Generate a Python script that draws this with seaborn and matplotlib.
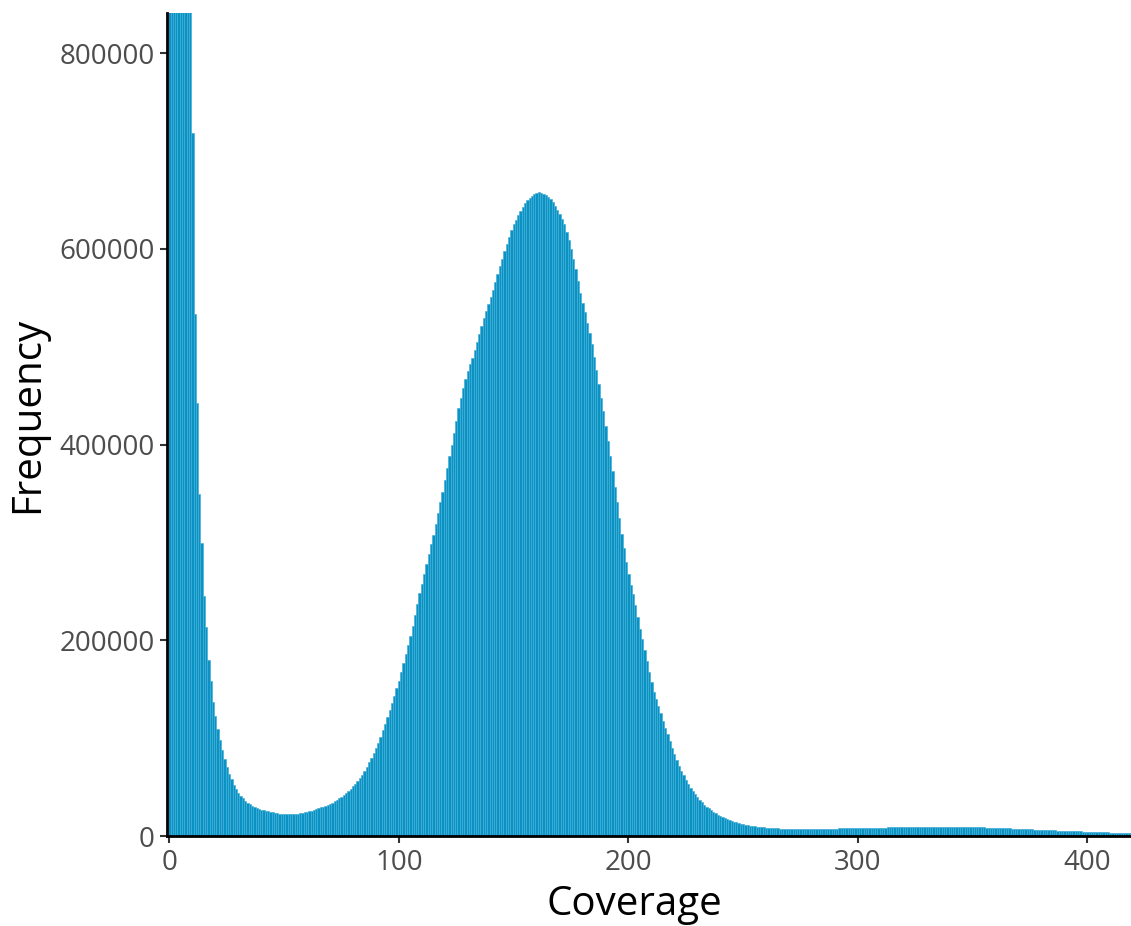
import numpy as np
import pandas as pd
import matplotlib
matplotlib.use("Agg")
import matplotlib.pyplot as plt
import seaborn as sns

# Coverage bins (integer coverage values 0..419)
coverage = list(range(420))

# Frequency per coverage value
frequency = [
    # 0-9 (clipped above the visible range)
    3200000, 2900000, 2500000, 2100000, 1800000, 1500000, 1300000, 1100000, 960000, 870000,
    # 10-19
    718000, 533000, 443000, 350000, 300000, 245000, 214000, 180000, 159000, 137000,
    # 20-29
    123000, 110000, 98000, 88000, 79000, 71000, 64000, 58000, 52000, 48000,
    # 30-39
    44000, 41000, 39000, 36000, 34000, 32500, 31000, 30000, 29000, 28000,
    # 40-49
    27200, 26500, 26000, 25300, 24800, 24200, 23800, 23400, 23000, 22700,
    # 50-59
    22500, 22400, 22300, 22300, 22500, 22700, 23000, 23300, 23700, 24200,
    # 60-69
    24800, 25400, 26000, 26800, 27600, 28500, 29400, 30300, 31200, 32200,
    # 70-79
    33200, 34300, 35500, 37000, 38600, 40500, 42500, 44500, 46500, 48500,
    # 80-89
    51000, 53500, 56500, 59500, 63000, 67000, 71000, 75500, 80000, 85000,
    # 90-99
    90000, 95000, 101000, 108000, 115000, 122000, 129000, 136000, 143000, 151000,
    # 100-109
    159000, 168000, 177000, 186000, 195000, 205000, 215000, 226000, 237000, 248000,
    # 110-119
    258000, 268000, 278000, 288000, 298000, 308000, 319000, 330000, 341000, 352000,
    # 120-129
    364000, 376000, 388000, 400000, 412000, 424000, 437000, 448000, 458000, 467000,
    # 130-139
    475000, 482000, 489000, 497000, 505000, 513000, 521000, 529000, 537000, 544000,
    # 140-149
    551000, 558000, 566000, 574000, 582000, 590000, 598000, 605000, 612000, 619000,
    # 150-159
    625000, 630000, 635000, 639000, 643000, 647000, 650000, 652000, 654000, 656000,
    # 160-169
    657000, 658000, 657000, 656000, 655000, 653000, 651000, 648000, 644000, 640000,
    # 170-179
    636000, 631000, 625000, 617000, 609000, 600000, 590000, 579000, 567000, 555000,
    # 180-189
    545000, 535000, 524000, 514000, 503000, 490000, 476000, 462000, 448000, 434000,
    # 190-199
    419000, 404000, 388000, 373000, 357000, 341000, 325000, 309000, 294000, 280000,
    # 200-209
    268000, 257000, 247000, 236000, 224000, 212000, 201000, 190000, 179000, 168000,
    # 210-219
    157000, 147000, 140000, 133000, 126000, 118000, 111000, 104000, 97000, 90000,
    # 220-229
    84000, 78000, 72000, 67000, 62000, 57000, 53000, 49000, 46000, 43000,
    # 230-239
    40000, 37000, 34500, 32000, 30000, 28500, 27000, 25000, 23500, 22000,
    # 240-249
    20500, 19500, 18500, 17500, 16500, 15500, 14800, 14000, 13300, 12700,
    # 250-259
    12200, 11700, 11200, 10800, 10400, 10000, 9700, 9400, 9100, 8900,
    # 260-269
    8700, 8500, 8300, 8100, 8000, 7900, 7800, 7700, 7600, 7550,
    # 270-279
    7500, 7450, 7400, 7350, 7300, 7300, 7300, 7300, 7300, 7350,
    # 280-289
    7350, 7400, 7400, 7450, 7450, 7500, 7550, 7600, 7650, 7700,
    # 290-299
    7750, 7800, 7850, 7900, 7950, 8000, 8050, 8100, 8150, 8200,
    # 300-309
    8250, 8300, 8350, 8400, 8450, 8500, 8550, 8600, 8650, 8700,
    # 310-319
    8750, 8800, 8850, 8900, 8950, 9000, 9050, 9100, 9150, 9200,
    # 320-329
    9250, 9300, 9330, 9360, 9400, 9430, 9460, 9500, 9520, 9540,
    # 330-339
    9560, 9580, 9600, 9620, 9640, 9650, 9660, 9670, 9680, 9690,
    # 340-349
    9700, 9700, 9690, 9670, 9640, 9600, 9560, 9510, 9450, 9390,
    # 350-359
    9320, 9250, 9170, 9090, 9000, 8910, 8820, 8730, 8640, 8550,
    # 360-369
    8460, 8370, 8280, 8190, 8100, 8000, 7900, 7800, 7700, 7600,
    # 370-379
    7500, 7400, 7300, 7200, 7100, 7000, 6900, 6800, 6700, 6600,
    # 380-389
    6500, 6400, 6300, 6200, 6100, 6000, 5900, 5800, 5700, 5600,
    # 390-399
    5500, 5400, 5300, 5200, 5100, 5000, 4900, 4800, 4700, 4600,
    # 400-409
    4500, 4400, 4300, 4250, 4150, 4100, 4000, 3950, 3850, 3800,
    # 410-419
    3700, 3650, 3550, 3500, 3450, 3400, 3300, 3250, 3200, 3150,
]

x_ticks = [0, 100, 200, 300, 400]
y_ticks = [0, 200000, 400000, 600000, 800000]
y_tick_labels = ["0", "200000", "400000", "600000", "800000"]

df = pd.DataFrame({"Coverage": coverage, "Frequency": frequency})

sns.set_style("ticks")
plt.rcParams["font.family"] = ["Open Sans", "DejaVu Sans"]

fig = plt.figure(figsize=(11.31, 9.26), dpi=100)
ax = fig.add_axes([0.148, 0.097, 0.852, 0.889])

sns.histplot(
    data=df, x="Coverage", weights="Frequency", discrete=True,
    color="#0a92c2", edgecolor="#42aed9", linewidth=0.45, alpha=1.0, ax=ax,
)

ax.set_xlim(-0.9, 419)
ax.set_ylim(0, 841000)
ax.set_xticks(x_ticks)
ax.set_xticklabels([str(t) for t in x_ticks])
ax.set_yticks(y_ticks)
ax.set_yticklabels(y_tick_labels)

for side in ["top", "right"]:
    ax.spines[side].set_visible(False)
for side in ["left", "bottom"]:
    ax.spines[side].set_linewidth(2.0)
    ax.spines[side].set_color("black")
    ax.spines[side].set_zorder(5)

ax.tick_params(axis="both", length=5, width=1.5, color="#333333",
               labelsize=20, labelcolor="#4d4d4d", pad=4)

ax.set_xlabel("Coverage", fontsize=29, color="black")
ax.set_ylabel("Frequency", fontsize=29, color="black")
ax.xaxis.set_label_coords(0.4844, -0.0585)
ax.yaxis.set_label_coords(-0.1234, 0.512)
ax.grid(False)

fig.savefig("out.png", dpi=100)
